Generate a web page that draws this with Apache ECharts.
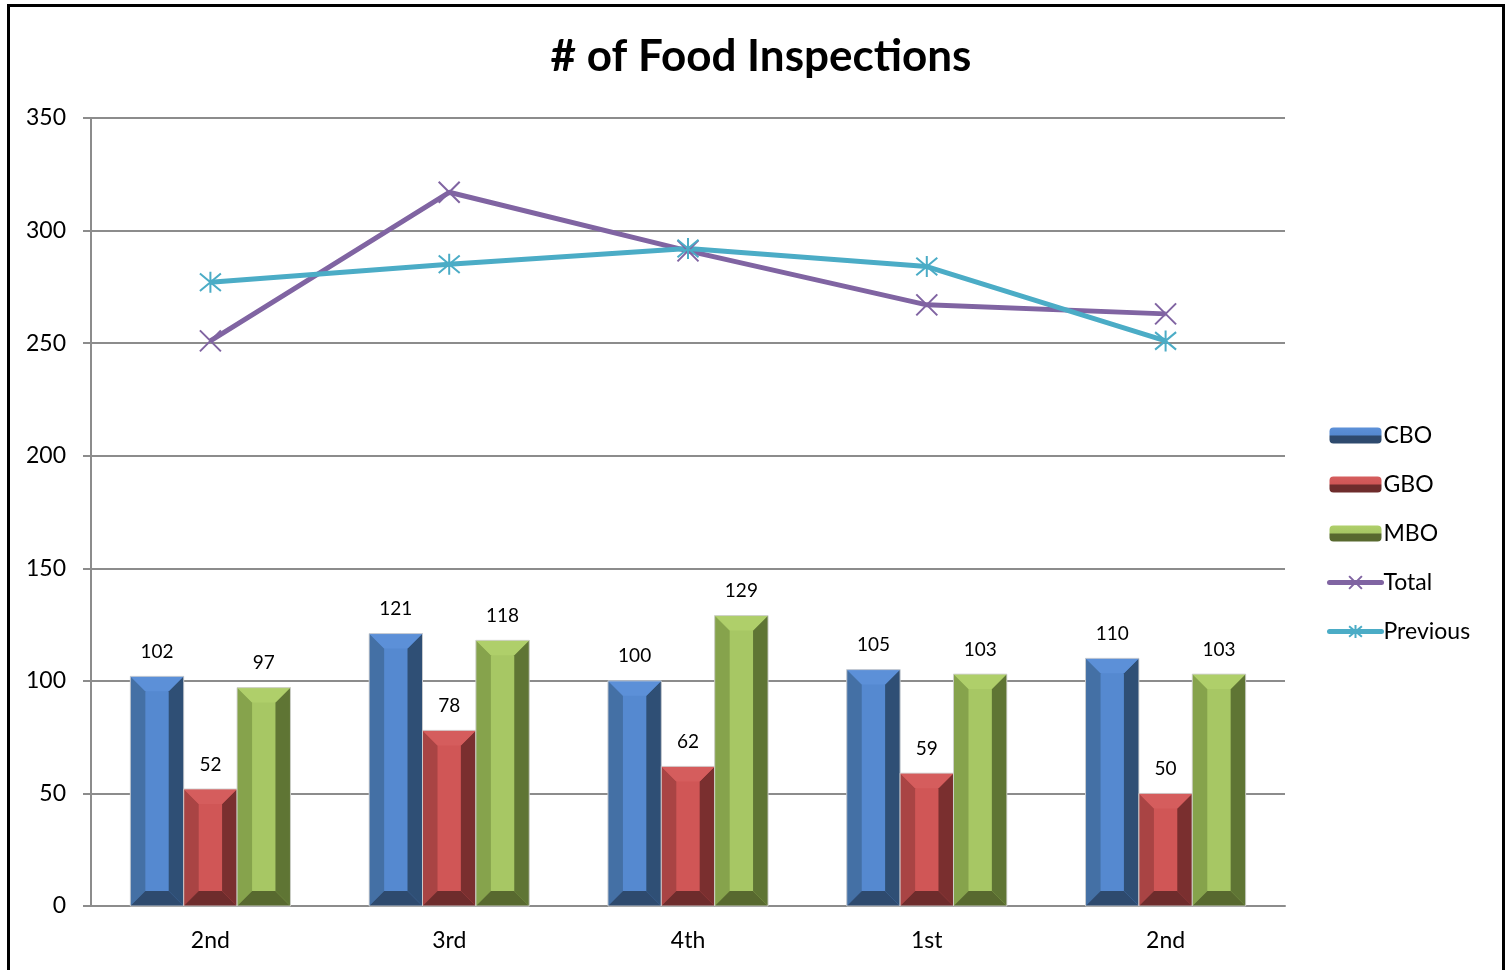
<!DOCTYPE html>
<html>
<head>
<meta charset="utf-8">
<script src="https://cdn.jsdelivr.net/npm/echarts@6/dist/echarts.min.js"></script>
<style>
  html, body { margin: 0; padding: 0; background: #fff; }
  #chart { width: 1508px; height: 970px; }
</style>
</head>
<body>
<div id="chart"></div>
<script>
// quarters on the x axis
const quarters = ['2nd', '3rd', '4th', '1st', '2nd'];
const yTicks = [0, 50, 100, 150, 200, 250, 300, 350];

// inspections per office
const cbo = [102, 121, 100, 105, 110];
const gbo = [52, 78, 62, 59, 50];
const mbo = [97, 118, 129, 103, 103];
const total = [251, 317, 291, 267, 263];
const previous = [277, 285, 292, 284, 251];

// bevel shades: face, left, right, top, bottom
const shades = [
  { face: '#5589D0', left: '#4470A5', right: '#2F4F75', top: '#5C90D8', bottom: '#2E4A6E' },
  { face: '#D05656', left: '#A94444', right: '#7A2F2F', top: '#D55D5D', bottom: '#6E2C2C' },
  { face: '#A7C764', left: '#86A34C', right: '#5F7534', top: '#AFCF6A', bottom: '#58692F' }
];

function legendFill(s) {
  return new echarts.graphic.LinearGradient(0, 0, 0, 1, [
    { offset: 0, color: s.top },
    { offset: 0.45, color: s.face },
    { offset: 0.55, color: s.bottom },
    { offset: 1, color: s.bottom }
  ]);
}

function bevelBar(params, api) {
  const k = params.seriesIndex;
  const s = shades[k];
  const top = api.coord([api.value(0), api.value(1)]);
  const base = api.coord([api.value(0), 0])[1];
  const band = api.size([1, 0])[0];
  const w = band * 0.2235;
  const cx = top[0] + (k - 1) * w;
  const x0 = cx - w / 2, x1 = cx + w / 2;
  const y0 = top[1], y1 = base;
  const b = Math.min(15, (y1 - y0) / 2, w / 2 - 2);
  const poly = (pts, fill) => ({ type: 'polygon', shape: { points: pts }, style: { fill: fill } });
  return {
    type: 'group',
    children: [
      { type: 'rect', shape: { x: x0, y: y0, width: w, height: y1 - y0 }, style: { fill: s.face } },
      poly([[x0, y0], [x0 + b, y0 + b], [x0 + b, y1 - b], [x0, y1]], s.left),
      poly([[x1, y0], [x1 - b, y0 + b], [x1 - b, y1 - b], [x1, y1]], s.right),
      poly([[x0, y0], [x1, y0], [x1 - b, y0 + b], [x0 + b, y0 + b]], s.top),
      poly([[x0, y1], [x1, y1], [x1 - b, y1 - b], [x0 + b, y1 - b]], s.bottom),
      { type: 'rect', shape: { x: x0, y: y0, width: w, height: y1 - y0 },
        style: { fill: 'none', stroke: 'rgba(210,210,210,0.9)', lineWidth: 1 } },
      { type: 'text', style: { text: String(api.value(1)), x: cx, y: y0 - 15,
        align: 'center', verticalAlign: 'bottom', fontSize: 19, fontFamily: 'Lato', fill: '#000' } }
    ]
  };
}

function barSeries(name, values, k) {
  return {
    name: name,
    type: 'custom',
    renderItem: bevelBar,
    itemStyle: { color: legendFill(shades[k]) },
    encode: { x: 0, y: 1 },
    data: values.map((v, i) => [i, v]),
    z: 2
  };
}

const thickLine = { width: 5, cap: 'round' };

const chart = echarts.init(document.getElementById('chart'));
chart.setOption({
  animation: false,
  textStyle: { fontFamily: 'Lato' },
  title: {
    text: '# of Food Inspections',
    left: 756, top: 30, textAlign: 'center',
    textStyle: { fontSize: 44, fontWeight: 'bold', color: '#000', fontFamily: 'Lato' }
  },
  graphic: [{
    type: 'rect', silent: true, z: -1,
    shape: { x: 8.5, y: 5.5, width: 1495, height: 1000 },
    style: { fill: 'none', stroke: '#000', lineWidth: 3 }
  }],
  legend: {
    orient: 'vertical', left: 1322, top: 419,
    itemWidth: 52, itemHeight: 16, itemGap: 26,
    textStyle: { fontSize: 23, color: '#000', padding: [0, 0, 0, -3] },
    data: [
      { name: 'CBO' },
      { name: 'GBO' },
      { name: 'MBO' },
      { name: 'Total', lineStyle: thickLine },
      { name: 'Previous', lineStyle: thickLine }
    ]
  },
  grid: { left: 91, right: 223, top: 118, bottom: 64 },
  xAxis: {
    type: 'category',
    data: quarters,
    axisLine: { lineStyle: { color: '#8c8c8c', width: 2 } },
    axisTick: { length: 8, lineStyle: { color: '#8c8c8c', width: 2 } },
    axisLabel: { fontSize: 23, color: '#000', margin: 23 }
  },
  yAxis: {
    type: 'value',
    min: yTicks[0], max: yTicks[yTicks.length - 1], interval: 50,
    axisLine: { show: true, lineStyle: { color: '#8c8c8c', width: 2 } },
    axisTick: { show: true, length: 8, lineStyle: { color: '#8c8c8c', width: 2 } },
    axisLabel: { fontSize: 23, color: '#000', margin: 25 },
    splitLine: { lineStyle: { color: '#8c8c8c', width: 2 } }
  },
  series: [
    barSeries('CBO', cbo, 0),
    barSeries('GBO', gbo, 1),
    barSeries('MBO', mbo, 2),
    {
      name: 'Total', type: 'line', data: total, z: 5,
      symbol: 'path://M0,0L10,10M10,0L0,10', symbolSize: 21,
      lineStyle: { color: '#8064A2', width: 5 },
      itemStyle: { color: '#8064A2', borderColor: '#8064A2', borderWidth: 2 }
    },
    {
      name: 'Previous', type: 'line', data: previous, z: 5,
      symbol: 'path://M0,1L10,11M10,1L0,11M5,0L5,12', symbolSize: 21,
      lineStyle: { color: '#4BACC6', width: 5 },
      itemStyle: { color: '#4BACC6', borderColor: '#4BACC6', borderWidth: 2 }
    }
  ]
});
</script>
</body>
</html>
